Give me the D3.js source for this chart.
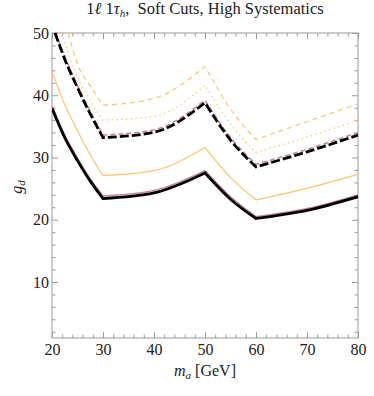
<!DOCTYPE html>
<html><head><meta charset="utf-8">
<script src="https://cdn.jsdelivr.net/npm/d3@7"></script>
<style>body{margin:0;background:#fff}svg{display:block}svg text{font-family:"Liberation Serif","Times New Roman",serif !important;fill:#222}</style>
</head><body><div id="c"></div>
<script>
const xTicks = [20,30,40,50,60,70,80];
const yTicks = [10,20,30,40,50];
const kinks = [30,50,60];
// curves: x positions and g_d values
const solidBlackX = [20,22.5,25,27.5,30,40,50,55,60,70,80];
const solidBlackY = [37.9,33.2,29.5,26.2,23.4,24.3,27.5,23.3,20.2,21.5,23.7];
const solidPinkX  = [20,22.5,25,27.5,30,40,50,55,60,70,80];
const solidPinkY  = [38.3,33.6,29.9,26.6,23.8,24.7,27.9,23.7,20.5,21.8,24.0];
const solidOrangeX = [20,22.5,25,27.5,30,40,50,55,60,70,80];
const solidOrangeY = [43.8,38.5,34.3,30.4,27.1,27.9,31.6,26.8,23.2,25.05,27.3];
const dashBlackX = [20.6,22.5,25,27.5,30,40,50,55,60,70,80];
const dashBlackY = [50,45.8,41.2,37.0,33.2,34.05,38.8,32.8,28.5,30.9,33.6];
const dashPinkX  = [20.7,22.5,25,27.5,30,40,50,55,60,70,80];
const dashPinkY  = [50,46.2,41.6,37.4,33.6,34.45,39.2,33.2,28.9,31.3,34.0];
const dotOrangeX = [21.9,25,27.5,30,40,50,55,60,70,80];
const dotOrangeY = [50,42.9,39.2,36.0,36.6,41.6,35.4,30.8,33.3,36.0];
const dashOrangeX = [23.2,25,27.5,30,40,50,55,60,70,80];
const dashOrangeY = [50,45.0,41.5,38.4,39.5,44.6,37.8,32.9,35.75,38.6];

const W=374,H=396, L=52,R=358,T=33,B=338;
const svg=d3.select("#c").append("svg").attr("width",W).attr("height",H);
const x=d3.scaleLinear().domain([20,80]).range([L,R]);
const y=d3.scaleLinear().domain([1,50]).range([B,T]);

svg.append("defs").append("clipPath").attr("id","cp").append("rect")
  .attr("x",L).attr("y",T-1).attr("width",R-L).attr("height",B-T+1);

const axCol="#9a9a9a";
svg.append("rect").attr("x",L).attr("y",T).attr("width",R-L).attr("height",B-T)
  .attr("fill","none").attr("stroke",axCol).attr("stroke-width",1);

const minorX=d3.range(20,81,2).filter(v=>v%10);
const minorY=d3.range(2,51,2).filter(v=>v%10);
function tickGroup(axis, tr){ const g=svg.append("g").attr("transform",tr).call(axis);
  g.select(".domain").remove(); g.selectAll("line").attr("stroke",axCol);
  g.attr("font-family",null).attr("font-size",null); return g;}
const fs=16;
let g=tickGroup(d3.axisBottom(x).tickValues(xTicks).tickSize(-6).tickPadding(6).tickFormat(d3.format("d")),`translate(0,${B})`);
g.selectAll("text").attr("font-size",fs).attr("fill","#222");
tickGroup(d3.axisBottom(x).tickValues(minorX).tickSize(-3.5).tickFormat(""),`translate(0,${B})`);
tickGroup(d3.axisTop(x).tickValues(xTicks).tickSize(-6).tickFormat(""),`translate(0,${T})`);
tickGroup(d3.axisTop(x).tickValues(minorX).tickSize(-3.5).tickFormat(""),`translate(0,${T})`);
g=tickGroup(d3.axisLeft(y).tickValues(yTicks).tickSize(-6).tickPadding(3).tickFormat(d3.format("d")),`translate(${L},0)`);
g.selectAll("text").attr("font-size",fs).attr("fill","#222");
tickGroup(d3.axisLeft(y).tickValues(minorY).tickSize(-3.5).tickFormat(""),`translate(${L},0)`);
tickGroup(d3.axisRight(y).tickValues(yTicks).tickSize(-6).tickFormat(""),`translate(${R},0)`);
tickGroup(d3.axisRight(y).tickValues(minorY).tickSize(-3.5).tickFormat(""),`translate(${R},0)`);

const seg=d3.line().x(d=>x(d[0])).y(d=>y(d[1])).curve(d3.curveMonotoneX);
// smooth within pieces, sharp corners at the kinks
function pathFor(pts){
  const pieces=[]; let cur=[];
  pts.forEach(p=>{ cur.push(p); if(kinks.includes(p[0])){ pieces.push(cur); cur=[p]; } });
  if(cur.length>1) pieces.push(cur);
  return pieces.map((pc,i)=>{ const d=seg(pc); return i? "L"+d.slice(1):d; }).join("");
}
const plot=svg.append("g").attr("clip-path","url(#cp)");
function draw(xs,ys,col,w,dash){
  plot.append("path").attr("d",pathFor(xs.map((v,i)=>[v,ys[i]])))
   .attr("fill","none").attr("stroke",col).attr("stroke-width",w)
   .attr("stroke-dasharray",dash||null).attr("stroke-linejoin","miter");
}
const orange="#fcc36c", pink="#c9889a";
draw(dashOrangeX,dashOrangeY,orange,1.2,"5,4");
draw(dotOrangeX,dotOrangeY,orange,1.3,"1.3,3.5");
draw(solidOrangeX,solidOrangeY,orange,1.2);
draw(dashPinkX,dashPinkY,pink,1.6,"5,3");
draw(dashBlackX,dashBlackY,"#000",2.8,"9,3");
draw(solidPinkX,solidPinkY,pink,1.5);
draw(solidBlackX,solidBlackY,"#000",2.8);

const t=svg.append("text").attr("x",205).attr("y",14).attr("text-anchor","middle").attr("font-size",16.5);
t.append("tspan").text("1");
t.append("tspan").attr("font-style","italic").text("ℓ");
t.append("tspan").text(" 1");
t.append("tspan").attr("font-style","italic").text("τ");
t.append("tspan").attr("font-style","italic").attr("font-size",11).attr("dy",3).text("h");
t.append("tspan").attr("dy",-3).text(",\u00a0 Soft Cuts, High Systematics");

const xl=svg.append("text").attr("x",205).attr("y",376).attr("text-anchor","middle").attr("font-size",fs);
xl.append("tspan").attr("font-style","italic").text("m");
xl.append("tspan").attr("font-style","italic").attr("font-size",11).attr("dy",3).text("a");
xl.append("tspan").attr("dy",-3).text(" [GeV]");

const yl=svg.append("text").attr("transform","translate(22,187) rotate(-90)").attr("text-anchor","middle").attr("font-size",fs);
yl.append("tspan").attr("font-style","italic").text("g");
yl.append("tspan").attr("font-style","italic").attr("font-size",11).attr("dy",3).text("d");
</script></body></html>
